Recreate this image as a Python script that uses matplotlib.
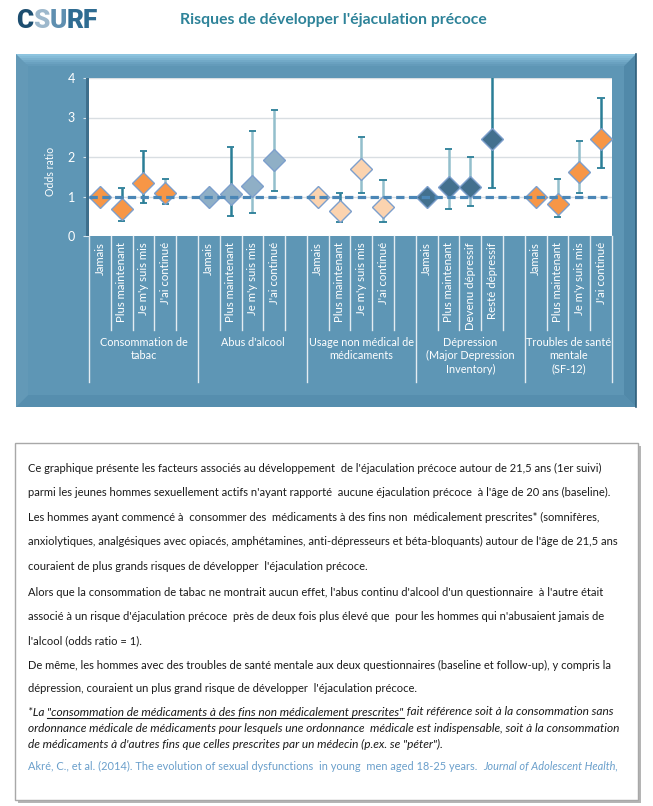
import matplotlib
matplotlib.use("Agg")
import matplotlib.pyplot as plt
from matplotlib.patches import Rectangle, Polygon
from matplotlib.transforms import blended_transform_factory
import numpy as np

# ---------------- data ----------------
groups = ["Consommation de\ntabac", "Abus d'alcool", "Usage non médical de\nmédicaments",
          "Dépression\n(Major Depression\nInventory)", "Troubles de santé\nmentale\n(SF-12)"]
slot_labels = [
    ["Jamais", "Plus maintenant", "Je m'y suis mis", "J'ai continué"],
    ["Jamais", "Plus maintenant", "Je m'y suis mis", "J'ai continué"],
    ["Jamais", "Plus maintenant", "Je m'y suis mis", "J'ai continué"],
    ["Jamais", "Plus maintenant", "Devenu dépressif", "Resté dépressif"],
    ["Jamais", "Plus maintenant", "Je m'y suis mis", "J'ai continué"],
]
odds = [
    [1.00, 0.68, 1.33, 1.08],
    [1.00, 1.07, 1.26, 1.92],
    [1.00, 0.63, 1.70, 0.73],
    [1.00, 1.23, 1.23, 2.46],
    [1.00, 0.82, 1.61, 2.45],
]
ci_low = [
    [None, 0.37, 0.83, 0.80],
    [None, 0.51, 0.57, 1.13],
    [None, 0.35, 1.10, 0.35],
    [None, 0.69, 0.76, 1.21],
    [None, 0.49, 1.08, 1.71],
]
ci_high = [
    [None, 1.21, 2.15, 1.44],
    [None, 2.25, 2.65, 3.18],
    [None, 1.10, 2.50, 1.43],
    [None, 2.19, 1.99, 4.80],
    [None, 1.44, 2.40, 3.49],
]
# whisker shade per point: 'd' dark, 'l' light
whisker_shade = [
    [None, "d", "d", "l"],
    [None, "d", "l", "l"],
    [None, "d", "l", "l"],
    [None, "l", "l", "d"],
    [None, "l", "l", "d"],
]
group_colors = ["#F79646", "#8FAFC6", "#FBD3AF", "#43708E", "#F79646"]
yticks = [0, 1, 2, 3, 4]

body_lines = [
    "Ce graphique présente les facteurs associés au développement  de l'éjaculation précoce autour de 21,5 ans (1er suivi)",
    "parmi les jeunes hommes sexuellement actifs n'ayant rapporté  aucune éjaculation précoce  à l'âge de 20 ans (baseline).",
    "Les hommes ayant commencé à  consommer des  médicaments à des fins non  médicalement prescrites* (somnifères,",
    "anxiolytiques, analgésiques avec opiacés, amphétamines, anti-dépresseurs et béta-bloquants) autour de l'âge de 21,5 ans",
    "couraient de plus grands risques de développer  l'éjaculation précoce.",
    "Alors que la consommation de tabac ne montrait aucun effet, l'abus continu d'alcool d'un questionnaire  à l'autre était",
    "associé à un risque d'éjaculation précoce  près de deux fois plus élevé que  pour les hommes qui n'abusaient jamais de",
    "l'alcool (odds ratio = 1).",
    "De même, les hommes avec des troubles de santé mentale aux deux questionnaires (baseline et follow-up), y compris la",
    "dépression, couraient un plus grand risque de développer  l'éjaculation précoce.",
]
note_first = ["*La ", "\"consommation de médicaments à des fins non médicalement prescrites\"",
              " fait référence soit à la consommation sans"]
note_lines = [
    "ordonnance médicale de médicaments pour lesquels une ordonnance  médicale est indispensable, soit à la consommation",
    "de médicaments à d'autres fins que celles prescrites par un médecin (p.ex. se \"péter\").",
]
cite_plain = "Akré, C., et al. (2014). The evolution of sexual dysfunctions  in young  men aged 18-25 years.  "
cite_italic = "Journal of Adolescent Health,"

# ---------------- figure ----------------
W, H = 653, 806
fig = plt.figure(figsize=(W / 100, H / 100), dpi=100)
fig.patch.set_facecolor("white")
renderer = fig.canvas.get_renderer()
FONT = ["Lato", "DejaVu Sans"]

def fx(x):
    return x / W

def fy(y):
    return 1 - y / H

def fit_size(s, target_px, family=None, **kw):
    t = fig.text(0, 0, s, fontsize=10, family=family or FONT, **kw)
    w = t.get_window_extent(renderer).width
    t.remove()
    return 10 * target_px / w

# ---- header ----
LOGO_FONT = ["Roboto", "DejaVu Sans"]
logo_parts = [("C", "#1D4E70"), ("S", "#9DB8CC"), ("U", "#5F8FB0"), ("RF", "#2F6C92")]
lsz = fit_size("CSURF", 82, family=LOGO_FONT, fontweight=900)
xcur = 16
for s, c in logo_parts:
    t = fig.text(fx(xcur), fy(21), s, fontsize=lsz, fontweight=900, family=LOGO_FONT,
                 color=c, va="center", ha="left")
    xcur += t.get_window_extent(renderer).width
title = "Risques de développer l'éjaculation précoce"
tsz = fit_size(title, 308, fontweight="bold")
fig.text(fx(180), fy(20), title, fontsize=tsz, fontweight="bold", family=FONT,
         color="#2E8399", va="center", ha="left")

# ---- blue panel ----
PX0, PY0, PX1, PY1 = 16, 54, 636, 407
B = 12
main_col = "#5E96B5"
fig.add_artist(Rectangle((fx(PX0), fy(PY1)), fx(PX1) - fx(PX0), fy(PY0) - fy(PY1),
                         transform=fig.transFigure, facecolor=main_col, edgecolor="none", zorder=0))
# right and bottom bevels (darker)
fig.add_artist(Polygon([(fx(PX1), fy(PY0)), (fx(PX1), fy(PY1)), (fx(PX1 - B), fy(PY1 - B)),
                        (fx(PX1 - B), fy(PY0 + B))], closed=True, transform=fig.transFigure,
                       facecolor="#5189A9", edgecolor="none", zorder=0.1))
fig.add_artist(Polygon([(fx(PX0), fy(PY1)), (fx(PX1), fy(PY1)), (fx(PX1 - B), fy(PY1 - B)),
                        (fx(PX0 + B), fy(PY1 - B))], closed=True, transform=fig.transFigure,
                       facecolor="#568EAE", edgecolor="none", zorder=0.1))
fig.add_artist(Polygon([(fx(PX0), fy(PY0)), (fx(PX0 + B), fy(PY0 + B)), (fx(PX0 + B), fy(PY1 - B)),
                        (fx(PX0), fy(PY1))], closed=True, transform=fig.transFigure,
                       facecolor="#6399B7", edgecolor="none", zorder=0.1))
# top bevel gradient
top_cols = ["#8DC4DF", "#84BBD7", "#7BB2CF", "#72A9C7", "#6AA1C0", "#649BBA"]
n = len(top_cols)
for i, c in enumerate(top_cols):
    y0 = PY0 + B * i / n
    y1 = PY0 + B * (i + 1) / n
    fig.add_artist(Polygon([(fx(PX0 + B * i / n), fy(y0)), (fx(PX1 - B * i / n), fy(y0)),
                            (fx(PX1 - B * (i + 1) / n), fy(y1)), (fx(PX0 + B * (i + 1) / n), fy(y1))],
                           closed=True, transform=fig.transFigure, facecolor=c,
                           edgecolor="none", zorder=0.2))
fig.add_artist(plt.Line2D([fx(PX1), fx(PX1)], [fy(PY0), fy(PY1)], transform=fig.transFigure,
                          color="#2F5E7A", lw=1.2, zorder=0.3))

# ---- plot axes ----
AX0, AY0, AX1, AY1 = 89, 78, 612, 236
# plot shadow
fig.add_artist(Rectangle((fx(AX0 - 3), fy(AY1)), 3 / W, (AY1 - AY0) / H, transform=fig.transFigure,
                         facecolor="#3E6F8C", edgecolor="none", zorder=0.5))
ax = fig.add_axes([fx(AX0), fy(AY1), (AX1 - AX0) / W, (AY1 - AY0) / H])
ax.set_facecolor("white")
for sp in ax.spines.values():
    sp.set_visible(False)
nslots = 24
ax.set_xlim(-0.5, nslots - 0.5)
ax.set_ylim(0, 4)
ax.set_yticks(yticks)
ax.set_yticklabels([str(v) for v in yticks], color="white", fontsize=9, family=FONT)
ax.tick_params(axis="y", length=4, color="#D8E4EC", pad=6)
ax.set_xticks([])
for v in yticks[1:]:
    ax.axhline(v, color="#D9DEE2", lw=1, zorder=1)

cap_half = 0.17
dark, light = "#2A7E97", "#93BFCC"
for g in range(len(groups)):
    for s in range(len(slot_labels[g])):
        x = g * 5 + s
        if ci_low[g][s] is not None:
            wc = dark if whisker_shade[g][s] == "d" else light
            ax.vlines(x, ci_low[g][s], ci_high[g][s], color=wc, lw=1.8, zorder=2)
            ax.hlines([ci_low[g][s], ci_high[g][s]], x - cap_half, x + cap_half,
                      color=dark, lw=1.3, zorder=2)
        ax.plot([x], [odds[g][s]], marker="D", markersize=11, color=group_colors[g],
                markeredgecolor="#7D9FCC", markeredgewidth=1.0, zorder=3, linestyle="none")
ax.axhline(1, xmin=0, xmax=0.99, color="#4A86B6", lw=2.3, dashes=(2.6, 1.4), zorder=4)

# y label
fig.text(fx(51), fy(171), "Odds ratio", rotation=90, color="white", family=FONT,
         fontsize=fit_size("Odds ratio", 49), ha="center", va="center")

# ---- category axis ----
tr = blended_transform_factory(ax.transData, fig.transFigure)
sep_col = "#E3ECF2"
slot_sz = fit_size("Plus maintenant", 80)
grp_sz = fit_size("Consommation de", 87)
group_bounds = []
for g in range(len(groups)):
    nsl = 5 if g < len(groups) - 1 else 4
    left = g * 5 - 0.5
    right = left + nsl
    group_bounds.append((left, right))
    for k in range(1, nsl):
        xb = left + k
        ax.plot([xb, xb], [fy(AY1), fy(330)], transform=tr, color=sep_col, lw=1,
                clip_on=False, zorder=1)
    for s, lab in enumerate(slot_labels[g]):
        x = g * 5 + s
        ax.text(x, fy(AY1 + 6), lab, transform=tr, rotation=90, ha="center", va="top",
                color="white", fontsize=slot_sz, family=FONT)
    ax.text((left + right) / 2, fy(337), groups[g], transform=tr, ha="center", va="top",
            color="white", fontsize=grp_sz, family=FONT, linespacing=1.25, multialignment="center")
edges = [b[0] for b in group_bounds] + [group_bounds[-1][1]]
for xb in edges:
    ax.plot([xb, xb], [fy(AY1), fy(382)], transform=tr, color=sep_col, lw=1,
            clip_on=False, zorder=1)

# ---- text box ----
TX0, TY0, TX1, TY1 = 15, 443, 638, 800
fig.add_artist(Rectangle((fx(TX0 + 3), fy(TY1 + 3)), (TX1 - TX0) / W, (TY1 - TY0) / H,
                         transform=fig.transFigure, facecolor="#B5B5B5", edgecolor="none", zorder=0))
fig.add_artist(Rectangle((fx(TX0), fy(TY1)), (TX1 - TX0) / W, (TY1 - TY0) / H,
                         transform=fig.transFigure, facecolor="white", edgecolor="#A8A8A8",
                         lw=1.0, zorder=0.5))
body_sz = fit_size(body_lines[3], 590)
body_y = [468, 492, 517, 541, 566, 593, 617, 641, 665, 689]
for s, y in zip(body_lines, body_y):
    fig.text(fx(28), fy(y), s, fontsize=body_sz, family=FONT, color="#1A1A1A",
             va="center", ha="left")

it_sz = fit_size(note_lines[0], 594, style="italic")
xcur = 28
for i, s in enumerate(note_first):
    t = fig.text(fx(xcur), fy(712), s, fontsize=it_sz, family=FONT, style="italic",
                 color="#1A1A1A", va="center", ha="left")
    bb = t.get_window_extent(renderer)
    if i == 1:
        fig.add_artist(plt.Line2D([fx(xcur), fx(xcur + bb.width)], [fy(718), fy(718)],
                                  transform=fig.transFigure, color="#1A1A1A", lw=0.8))
    xcur += bb.width
for s, y in zip(note_lines, [728, 744]):
    fig.text(fx(28), fy(y), s, fontsize=it_sz, family=FONT, style="italic",
             color="#1A1A1A", va="center", ha="left")

cite_sz = fit_size(cite_plain + cite_italic, 597)
t = fig.text(fx(28), fy(766), cite_plain, fontsize=cite_sz, family=FONT, color="#6A9FCB",
             va="center", ha="left")
w = t.get_window_extent(renderer).width
fig.text(fx(28 + w), fy(766), cite_italic, fontsize=cite_sz, family=FONT, style="italic",
         color="#6A9FCB", va="center", ha="left")

fig.savefig("out.png", dpi=100, facecolor="white")
